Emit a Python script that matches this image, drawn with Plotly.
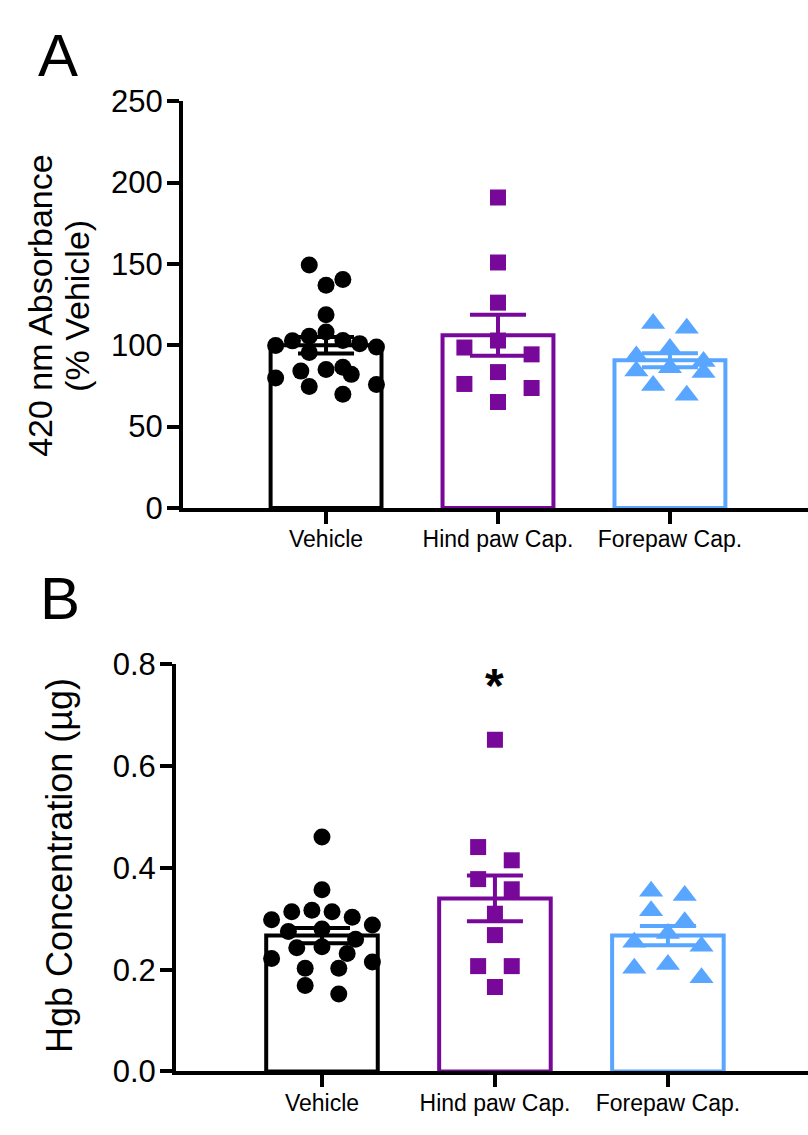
import plotly.graph_objects as go

# ---------------- data ----------------
categories = ["Vehicle", "Hind paw Cap.", "Forepaw Cap."]

# Panel A: 420 nm absorbance (% vehicle)
a_vehicle = [149.3, 140.5, 136.9, 118.7, 108.2, 105.5, 102.7, 102.9, 101.0, 99.9,
             98.9, 95.6, 85.1, 82.1, 86.5, 84.1, 79.8, 74.6, 75.8, 69.9]
a_hind = [190.9, 150.9, 126.2, 102.9, 98.6, 94.4, 83.5, 76.2, 73.7, 65.1]
a_fore = [113.4, 110.4, 93.4, 98.0, 90.0, 86.1, 83.2, 84.1, 75.2, 69.3]
a_mean = [100.0, 106.2, 90.8]
a_sem = [5.1, 12.6, 4.3]
a_ticks = [0, 50, 100, 150, 200, 250]

# Panel B: Hgb concentration (ug)
b_vehicle = [0.461, 0.357, 0.314, 0.314, 0.317, 0.303, 0.298, 0.288, 0.280, 0.275,
             0.260, 0.243, 0.245, 0.232, 0.222, 0.215, 0.203, 0.203, 0.169, 0.152]
b_hind = [0.652, 0.441, 0.415, 0.378, 0.358, 0.310, 0.268, 0.207, 0.207, 0.166]
b_fore = [0.354, 0.346, 0.316, 0.294, 0.271, 0.254, 0.246, 0.210, 0.203, 0.184]
b_mean = [0.267, 0.340, 0.267]
b_sem = [0.015, 0.045, 0.019]
b_ticks = [0.0, 0.2, 0.4, 0.6, 0.8]
b_ticktext = ["0.0", "0.2", "0.4", "0.6", "0.8"]

# ---------------- style ----------------
W, H = 808, 1135
FONT = "Liberation Sans, Arial, sans-serif"
colors = ["#000000", "#780899", "#58A6FF"]
symbols = ["circle", "square", "triangle-up"]
msizes = [17, 16, 21]

A_X0, A_XRANGE = 183, [-0.832, 2.803]
A_YTOP, A_YBOT, A_YRANGE = 87, 506.5, [0, 250]
B_X0, B_XRANGE = 176, [-0.844, 2.81]
B_YTOP, B_YBOT, B_YRANGE = 668, 1088, [0, 0.8]


def row_swarm(values, center, ppu_y, ppu_x, d):
    """Scatter-dot layout: group points into rows one marker high and spread
    each row symmetrically around the category centre."""
    order = sorted(range(len(values)), key=lambda i: -values[i])
    rows, cur = [], []
    for i in order:
        if cur and (values[cur[0]] - values[i]) * ppu_y >= d:
            rows.append(cur)
            cur = []
        cur.append(i)
    if cur:
        rows.append(cur)
    xs = [0.0] * len(values)
    for r in rows:
        n = len(r)
        s = 2 * d if n <= 1 else min(2 * d, 6 * d / (n - 1))
        if n % 2:
            slots = [0]
            for k in range(1, n):
                slots.append(((k + 1) // 2) * (-1 if k % 2 else 1))
        else:
            slots = []
            for k in range(n):
                m = k // 2 + 0.5
                slots.append(-m if k % 2 == 0 else m)
        for i, sl in zip(r, slots):
            xs[i] = center + sl * s / ppu_x
    return xs


fig = go.Figure()

panels = [
    dict(xa="x", ya="y", groups=[a_vehicle, a_hind, a_fore], mean=a_mean, sem=a_sem,
         x0=A_X0, xr=A_XRANGE, yt=A_YTOP, yb=A_YBOT, yr=A_YRANGE, capw=28),
    dict(xa="x2", ya="y2", groups=[b_vehicle, b_hind, b_fore], mean=b_mean, sem=b_sem,
         x0=B_X0, xr=B_XRANGE, yt=B_YTOP, yb=B_YBOT, yr=B_YRANGE, capw=28),
]

for p in panels:
    ppu_x = (W - p["x0"]) / (p["xr"][1] - p["xr"][0])
    ppu_y = (p["yb"] - p["yt"]) / (p["yr"][1] - p["yr"][0])
    for g in range(3):
        fig.add_trace(go.Bar(
            x=[g], y=[p["mean"][g]], width=0.645,
            marker=dict(color="white", line=dict(color=colors[g], width=4)),
            error_y=dict(type="data", array=[p["sem"][g]], color=colors[g],
                         thickness=4, width=p["capw"]),
            xaxis=p["xa"], yaxis=p["ya"], showlegend=False, hoverinfo="skip",
        ))
    for g in range(3):
        vals = p["groups"][g]
        xs = row_swarm(vals, g, ppu_y, ppu_x, 16.8)
        fig.add_trace(go.Scatter(
            x=xs, y=vals, mode="markers",
            marker=dict(symbol=symbols[g], size=msizes[g], color=colors[g],
                        line=dict(width=0)),
            xaxis=p["xa"], yaxis=p["ya"], showlegend=False, hoverinfo="skip",
        ))

axis_common = dict(showline=True, linecolor="black", linewidth=4, ticks="outside",
                   ticklen=12, tickwidth=4, tickcolor="black", showgrid=False,
                   zeroline=False, fixedrange=True)

fig.update_layout(
    width=W, height=H, margin=dict(l=0, r=0, t=0, b=0),
    paper_bgcolor="white", plot_bgcolor="white",
    font=dict(family=FONT, color="black"),
    barmode="overlay",
    xaxis=dict(domain=[A_X0 / W, 1], range=A_XRANGE, tickvals=[0, 1, 2], ticktext=categories,
               tickfont=dict(size=23), anchor="y", ticklabelstandoff=-4, **axis_common),
    yaxis=dict(domain=[1 - A_YBOT / H, 1 - A_YTOP / H], range=A_YRANGE, tickvals=a_ticks,
               tickfont=dict(size=31), anchor="x", ticklabelstandoff=-2, **axis_common),
    xaxis2=dict(domain=[B_X0 / W, 1], range=B_XRANGE, tickvals=[0, 1, 2], ticktext=categories,
                tickfont=dict(size=23), anchor="y2", ticklabelstandoff=-4, **axis_common),
    yaxis2=dict(domain=[1 - B_YBOT / H, 1 - B_YTOP / H], range=B_YRANGE, tickvals=b_ticks,
                ticktext=b_ticktext, tickfont=dict(size=31), anchor="x2",
                ticklabelstandoff=-2, **axis_common),
)

annotations = [
    dict(text="A", x=58 / W, y=1 - 40 / H, font=dict(size=60)),
    dict(text="B", x=60 / W, y=1 - 600 / H, font=dict(size=60)),
    dict(text="420 nm Absorbance", x=40 / W, y=1 - 298 / H,
         font=dict(size=34), textangle=-90),
    dict(text="(% Vehicle)", x=77 / W, y=1 - 298 / H,
         font=dict(size=34), textangle=-90),
    dict(text="Hgb Concentration (µg)", x=60 / W, y=1 - 876 / H,
         font=dict(size=36), textangle=-90),
]
for a in annotations:
    fig.add_annotation(xref="paper", yref="paper", xanchor="center", yanchor="middle",
                       showarrow=False, **a)

fig.add_annotation(text="<b>*</b>", x=1, y=0.758, xref="x2", yref="y2",
                   showarrow=False, font=dict(size=48, color="black"),
                   xanchor="center", yanchor="middle")

fig.write_html("out.html")
